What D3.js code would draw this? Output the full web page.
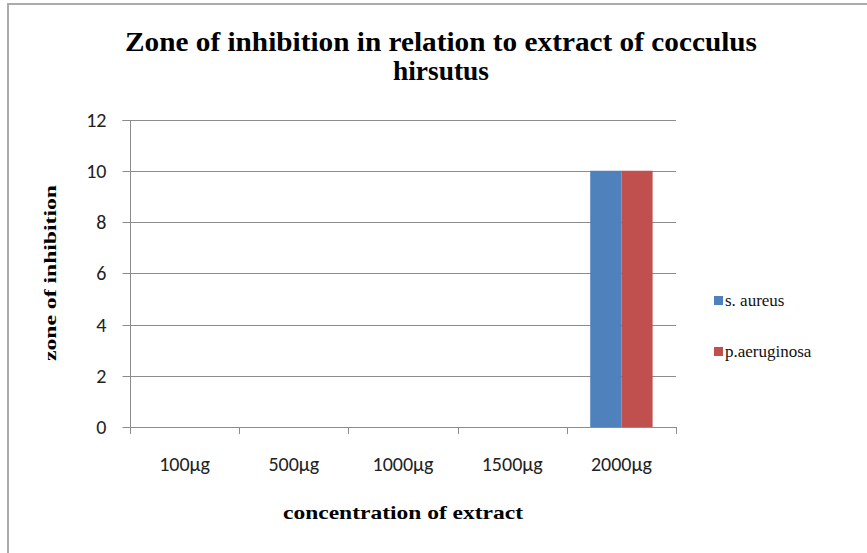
<!DOCTYPE html>
<html><head><meta charset="utf-8">
<script src="https://cdn.jsdelivr.net/npm/d3@7"></script>
<style>body{margin:0;background:#fff;} svg{display:block;}</style>
</head><body>
<svg id="c" width="867" height="553"></svg>
<script>
const categories = ["100µg","500µg","1000µg","1500µg","2000µg"];
const seriesNames = ["s. aureus","p.aeruginosa"];
const sAureus = [0,0,0,0,10];
const pAeruginosa = [0,0,0,0,10];
const yTicks = [0,2,4,6,8,10,12];
const colors = ["#4F81BD","#C0504D"];

const svg = d3.select("#c");
svg.append("rect").attr("x",8).attr("y",4).attr("width",880).attr("height",560)
  .attr("fill","#fff").attr("stroke","#ababab").attr("stroke-width",2);

const pLeft=130, pRight=676, pTop=119.5, pBottom=427;
const x = d3.scaleBand().domain(categories).range([pLeft,pRight]).paddingInner(0).paddingOuter(0);
const y = d3.scaleLinear().domain([0,12]).range([pBottom,pTop]);
const inner = d3.scaleBand().domain(seriesNames).range([0,x.bandwidth()]).paddingInner(0).paddingOuter(0.75);

// gridlines
svg.append("g").selectAll("line").data(yTicks.filter(d=>d>0)).join("line")
  .attr("x1",pLeft).attr("x2",pRight).attr("y1",d=>Math.round(y(d))+0.5).attr("y2",d=>Math.round(y(d))+0.5)
  .attr("stroke","#8c8c8c").attr("stroke-width",1);

// bars
const data = categories.map((c,i)=>({c, vals:[sAureus[i],pAeruginosa[i]]}));
const g = svg.append("g");
data.forEach(d=>{
  d.vals.forEach((v,j)=>{
    if(v<=0) return;
    g.append("rect").attr("x",x(d.c)+inner(seriesNames[j])).attr("y",y(v))
     .attr("width",inner.bandwidth()).attr("height",y(0)-y(v)).attr("fill",colors[j]);
  });
});

const sf = "Carlito, 'Open Sans', 'Liberation Sans', sans-serif";
// y axis
const yAxis = d3.axisLeft(y).tickValues(yTicks).tickSize(8).tickPadding(8);
const ya = svg.append("g").attr("transform",`translate(${pLeft+0.5},0)`).call(yAxis);
ya.select(".domain").attr("stroke","#8c8c8c").attr("d",`M-8,${Math.round(pTop)+0.5}H0V${pBottom+7}`);
ya.selectAll(".tick line").attr("stroke","#8c8c8c");
ya.selectAll(".tick").attr("transform",d=>`translate(0,${Math.round(y(d))+0.5})`);
ya.selectAll("text").attr("font-family",sf).attr("font-size",20).attr("fill","#222").attr("x",-24).attr("dy","0.34em");

// x axis
const xAxis = d3.axisBottom(x).tickSize(0).tickPadding(29);
const xa = svg.append("g").attr("transform",`translate(0,${pBottom+0.5})`).call(xAxis);
xa.select(".domain").attr("stroke","#8c8c8c").attr("d",`M${pLeft},0H${pRight}`);
xa.selectAll("text").attr("font-family",sf).attr("font-size",20).attr("fill","#222");
const bounds = categories.map(c=>x(c)).concat([pRight]);
svg.append("g").selectAll("line").data(bounds).join("line")
  .attr("x1",d=>Math.round(d)+0.5).attr("x2",d=>Math.round(d)+0.5).attr("y1",pBottom).attr("y2",pBottom+7)
  .attr("stroke","#8c8c8c");

// title
const tf = "'Liberation Serif', serif";
svg.append("text").attr("x",441).attr("y",51).attr("text-anchor","middle")
  .attr("font-family",tf).attr("font-weight","bold").attr("font-size",27)
  .attr("textLength",632).attr("lengthAdjust","spacingAndGlyphs")
  .text("Zone of inhibition in relation to extract of cocculus");
svg.append("text").attr("x",441).attr("y",80).attr("text-anchor","middle")
  .attr("font-family",tf).attr("font-weight","bold").attr("font-size",27)
  .attr("textLength",96).attr("lengthAdjust","spacingAndGlyphs")
  .text("hirsutus");

// axis titles
svg.append("text").attr("transform","translate(56,273) rotate(-90)").attr("text-anchor","middle")
  .attr("font-family",tf).attr("font-weight","bold").attr("font-size",17)
  .attr("textLength",176).attr("lengthAdjust","spacingAndGlyphs")
  .text("zone of inhibition");
svg.append("text").attr("x",403).attr("y",519).attr("text-anchor","middle")
  .attr("font-family",tf).attr("font-weight","bold").attr("font-size",19)
  .attr("textLength",240).attr("lengthAdjust","spacingAndGlyphs")
  .text("concentration of extract");

// legend
const lg = svg.append("g");
seriesNames.forEach((s,i)=>{
  const yy = 296 + i*51;
  lg.append("rect").attr("x",714).attr("y",yy).attr("width",9).attr("height",9).attr("fill",colors[i]);
  lg.append("text").attr("x",725).attr("y",yy+10).attr("font-family",tf).attr("font-size",17).attr("fill","#111").text(s);
});
</script>
</body></html>
